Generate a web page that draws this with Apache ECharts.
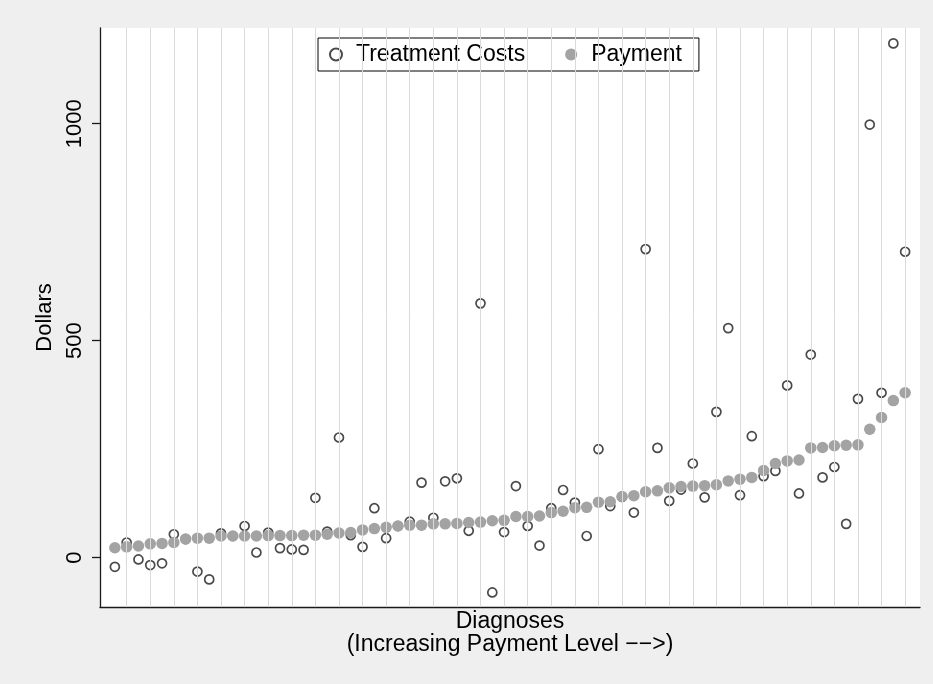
<!DOCTYPE html>
<html>
<head>
<meta charset="utf-8">
<script src="https://cdn.jsdelivr.net/npm/echarts@6/dist/echarts.min.js"></script>
<style>
  html, body { margin: 0; padding: 0; background: #efefef; }
  #chart { width: 933px; height: 684px; }
</style>
</head>
<body>
<div id="chart"></div>
<script>
// Diagnoses ranked by payment level (1 = lowest payment)
const ranks = [
  1, 2, 3, 4, 5, 6, 7, 8, 9, 10, 11, 12, 13, 14, 15, 16, 17,
  18, 19, 20, 21, 22, 23, 24, 25, 26, 27, 28, 29, 30, 31, 32, 33, 34,
  35, 36, 37, 38, 39, 40, 41, 42, 43, 44, 45, 46, 47, 48, 49, 50, 51,
  52, 53, 54, 55, 56, 57, 58, 59, 60, 61, 62, 63, 64, 65, 66, 67, 68
];

// Treatment costs per diagnosis (dollars)
const treatmentCosts = [
  -21, 35, -4, -17, -13, 54, 43, -32, -50, 56, 50, 73, 12, 58, 22, 19, 18,
  138, 60, 277, 52, 25, 114, 45, 73, 83, 173, 92, 176, 183, 62, 586, -80, 59,
  165, 73, 28, 114, 156, 127, 50, 250, 119, 140, 104, 711, 253, 131, 157, 217, 139,
  336, 529, 144, 280, 188, 200, 397, 148, 468, 185, 209, 78, 366, 998, 380, 1185, 705
];

// Payment per diagnosis (dollars)
const payment = [
  23, 25, 27, 32, 33, 35, 43, 45, 45, 50, 50, 50, 50, 51, 51, 51, 52,
  52, 54, 57, 58, 64, 67, 70, 73, 75, 75, 78, 78, 79, 81, 82, 85, 86,
  95, 95, 96, 104, 107, 115, 116, 128, 129, 141, 143, 152, 154, 161, 164, 165, 166,
  168, 177, 181, 185, 201, 217, 223, 225, 253, 254, 258, 259, 260, 296, 323, 362, 380
];

// Labelled ticks on the dollar axis
const yTicks = [0, 500, 1000];

const FONT = '"Liberation Sans", Arial, Helvetica, sans-serif';
const AXIS_COLOR = '#1a1a1a';

// Light vertical guides at every second diagnosis
const guideRanks = ranks.filter(r => r % 2 === 0);

const chart = echarts.init(document.getElementById('chart'), null, { renderer: 'canvas' });

chart.setOption({
  animation: false,
  backgroundColor: '#efefef',
  textStyle: { fontFamily: FONT, color: '#000' },
  grid: {
    left: 100, right: 13, top: 28, bottom: 77,
    show: true, backgroundColor: '#ffffff', borderWidth: 0
  },
  legend: {
    data: ['Treatment Costs', 'Payment'],
    left: 318, top: 38,
    orient: 'horizontal',
    backgroundColor: '#ffffff',
    borderColor: '#000000', borderWidth: 1, borderRadius: 0,
    padding: [5, 17, 5, 11],
    itemWidth: 12, itemHeight: 12, itemGap: 40,
    formatter: name => '{t|' + name + '}',
    textStyle: {
      fontFamily: FONT, fontSize: 23, color: '#000',
      rich: { t: { fontFamily: FONT, fontSize: 23, color: '#000', lineHeight: 24, padding: [0, 0, 0, 9] } }
    }
  },
  xAxis: {
    type: 'value',
    min: -0.26, max: 69.26,
    axisLine: { show: true, onZero: false, lineStyle: { color: AXIS_COLOR, width: 1.3 } },
    axisTick: { show: false },
    axisLabel: { show: false },
    splitLine: { show: false },
    name: 'Diagnoses\n(Increasing Payment Level \u2212\u2212>)',
    nameLocation: 'middle',
    nameGap: 3,
    nameTextStyle: { fontFamily: FONT, fontSize: 23, color: '#000', lineHeight: 23, verticalAlign: 'top' }
  },
  yAxis: {
    type: 'value',
    min: -113.6, max: 1220.5,
    axisLine: { show: true, onZero: false, lineStyle: { color: AXIS_COLOR, width: 1.3 } },
    axisTick: { show: true, inside: false, length: 8, customValues: yTicks, lineStyle: { color: AXIS_COLOR, width: 1.3 } },
    axisLabel: {
      customValues: yTicks, rotate: 90, fontFamily: FONT, fontSize: 22, color: '#000', margin: 14,
      formatter: v => String(v)
    },
    splitLine: { show: false },
    name: 'Dollars',
    nameLocation: 'middle',
    nameGap: 42,
    nameRotate: 90,
    nameTextStyle: { fontFamily: FONT, fontSize: 22, color: '#000' }
  },
  series: [
    {
      name: 'guides',
      type: 'scatter',
      data: [],
      silent: true,
      z: 1,
      markLine: {
        silent: true,
        symbol: 'none',
        animation: false,
        label: { show: false },
        lineStyle: { color: '#dadada', width: 1, type: 'solid' },
        data: guideRanks.map(r => ({ xAxis: r }))
      }
    },
    {
      name: 'Treatment Costs',
      type: 'scatter',
      symbol: 'circle',
      symbolSize: 9,
      z: 3,
      itemStyle: { color: 'rgba(255,255,255,0)', borderColor: '#4a4a4a', borderWidth: 1.7, opacity: 1 },
      data: ranks.map((r, i) => [r, treatmentCosts[i]])
    },
    {
      name: 'Payment',
      type: 'scatter',
      symbol: 'circle',
      symbolSize: 11.5,
      z: 4,
      itemStyle: { color: '#a3a3a3', opacity: 1 },
      data: ranks.map((r, i) => [r, payment[i]])
    }
  ]
});
</script>
</body>
</html>
